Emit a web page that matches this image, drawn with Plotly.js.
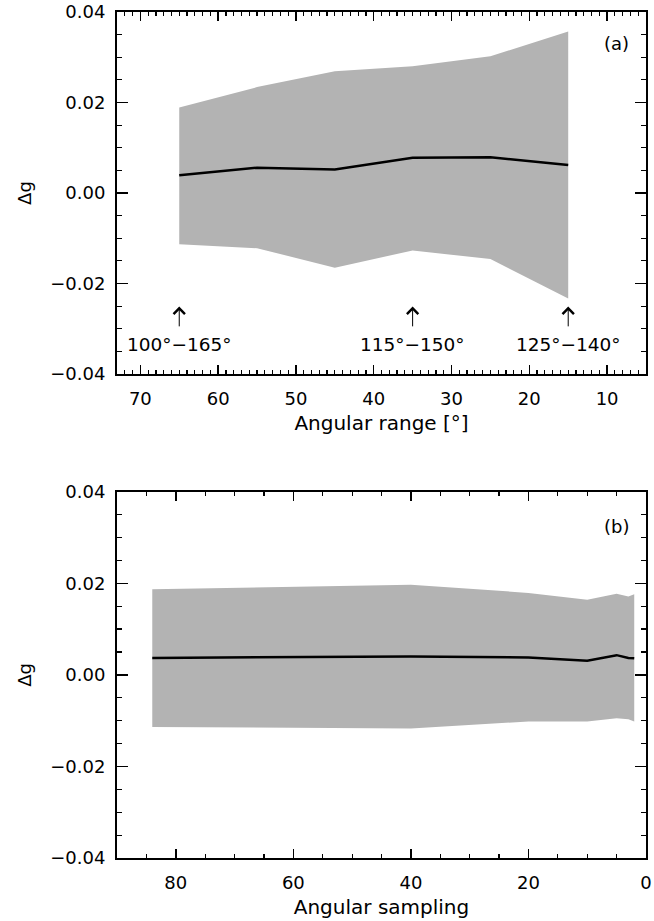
<!DOCTYPE html>
<html>
<head>
<meta charset="utf-8">
<script src="https://cdn.plot.ly/plotly-3.0.1.min.js"></script>
<style>
html,body{margin:0;padding:0;background:#fff;}
#chart{width:654px;height:921px;}
</style>
</head>
<body>
<div id="chart"></div>
<script>
// Panel (a): angular range
const rangeX = [65, 55, 45, 35, 25, 15];
const rangeMean = [0.0039, 0.0056, 0.0052, 0.0078, 0.0079, 0.0062];
const rangeUpper = [0.0189, 0.0234, 0.0269, 0.0280, 0.0302, 0.0357];
const rangeLower = [-0.0113, -0.0122, -0.0165, -0.0127, -0.0146, -0.0233];

// Panel (b): angular sampling
const sampX = [84, 40, 20, 10, 5, 3, 2];
const sampMean = [0.0037, 0.0040, 0.0038, 0.0031, 0.0043, 0.0037, 0.0036];
const sampUpper = [0.0187, 0.0197, 0.0179, 0.0164, 0.0177, 0.0171, 0.0176];
const sampLower = [-0.0114, -0.0117, -0.0102, -0.0102, -0.0095, -0.0097, -0.0102];

// Arrow annotations (panel a)
const arrowX = [65, 35, 15];
const arrowLabels = ['100°−165°', '115°−150°', '125°−140°'];
const arrowTipY = -0.0251, arrowTailY = -0.0298, labelY = -0.0335;

const yTicks = [-0.04, -0.02, 0.00, 0.02, 0.04];
const yTickText = ['−0.04', '−0.02', '0.00', '0.02', '0.04'];

const FILL = '#b3b3b3';
const FONT = 'DejaVu Sans, sans-serif';

function band(x, lo, hi, mean, xa, ya) {
  return [
    {x: x, y: lo, xaxis: xa, yaxis: ya, mode: 'lines', line: {width: 0, color: FILL}, showlegend: false, hoverinfo: 'skip'},
    {x: x, y: hi, xaxis: xa, yaxis: ya, mode: 'lines', line: {width: 0, color: FILL}, fill: 'tonexty', fillcolor: FILL, showlegend: false, hoverinfo: 'skip'},
    {x: x, y: mean, xaxis: xa, yaxis: ya, mode: 'lines', line: {width: 2.5, color: '#000'}, showlegend: false}
  ];
}

const traces = [].concat(
  band(rangeX, rangeLower, rangeUpper, rangeMean, 'x', 'y'),
  band(sampX, sampLower, sampUpper, sampMean, 'x2', 'y2')
);

const axCommon = {
  showline: true, linewidth: 2, linecolor: '#000', mirror: 'ticks',
  ticks: 'inside', tickwidth: 1.5, tickcolor: '#000',
  showgrid: false, zeroline: false, ticklabeloverflow: 'allow',
  tickfont: {family: FONT, size: 18, color: '#000'}
};

function xAxis(range, dtick, minorDtick, title, anchor) {
  return Object.assign({}, axCommon, {
    range: range, autorange: false, tickmode: 'linear', dtick: dtick, tick0: 0,
    ticklen: 9, ticklabelstandoff: 7, anchor: anchor,
    minor: {dtick: minorDtick, tick0: 0, ticks: 'inside', ticklen: 4, tickwidth: 1.2, tickcolor: '#000', showgrid: false},
    title: {text: title, font: {family: FONT, size: 20, color: '#000'}, standoff: 8}
  });
}

function yAxis(domain, anchor) {
  return Object.assign({}, axCommon, {
    domain: domain, range: [-0.04, 0.04], autorange: false,
    tickmode: 'array', tickvals: yTicks, ticktext: yTickText,
    ticklen: 11, ticklabelstandoff: 6, anchor: anchor,
    minor: {dtick: 0.005, tick0: 0, ticks: 'inside', ticklen: 5, tickwidth: 1.2, tickcolor: '#000', showgrid: false},
    title: {text: 'Δg', font: {family: FONT, size: 18, color: '#000'}, standoff: 14}
  });
}

const annotations = [];
arrowX.forEach(function (xv, i) {
  annotations.push({
    xref: 'x', yref: 'y', axref: 'x', ayref: 'y',
    x: xv, y: arrowTipY, ax: xv, ay: arrowTailY,
    text: '', showarrow: true, arrowhead: 4, arrowsize: 2.2, arrowwidth: 1, arrowcolor: '#000'
  });
  annotations.push({
    xref: 'x', yref: 'y', x: xv, y: labelY, text: arrowLabels[i], showarrow: false,
    font: {family: FONT, size: 18.5, color: '#000'}, xanchor: 'center', yanchor: 'middle'
  });
});
annotations.push({xref: 'x domain', yref: 'y domain', x: 1, y: 1, xanchor: 'right', yanchor: 'middle',
  xshift: -15, yshift: -31, text: '(a)', showarrow: false, font: {family: FONT, size: 18, color: '#000'}});
annotations.push({xref: 'x2 domain', yref: 'y2 domain', x: 1, y: 1, xanchor: 'right', yanchor: 'middle',
  xshift: -15, yshift: -35, text: '(b)', showarrow: false, font: {family: FONT, size: 18, color: '#000'}});

const layout = {
  width: 654, height: 921,
  margin: {l: 117, r: 8, t: 12, b: 63},
  paper_bgcolor: '#fff', plot_bgcolor: '#fff',
  showlegend: false,
  xaxis: xAxis([73, 5], 10, 1, 'Angular range [°]', 'y'),
  yaxis: yAxis([0.5721, 1], 'x'),
  xaxis2: xAxis([90, 0], 20, 5, 'Angular sampling', 'y2'),
  yaxis2: yAxis([0, 0.4330], 'x2'),
  annotations: annotations
};

Plotly.newPlot('chart', traces, layout, {displayModeBar: false, staticPlot: true});
</script>
</body>
</html>
